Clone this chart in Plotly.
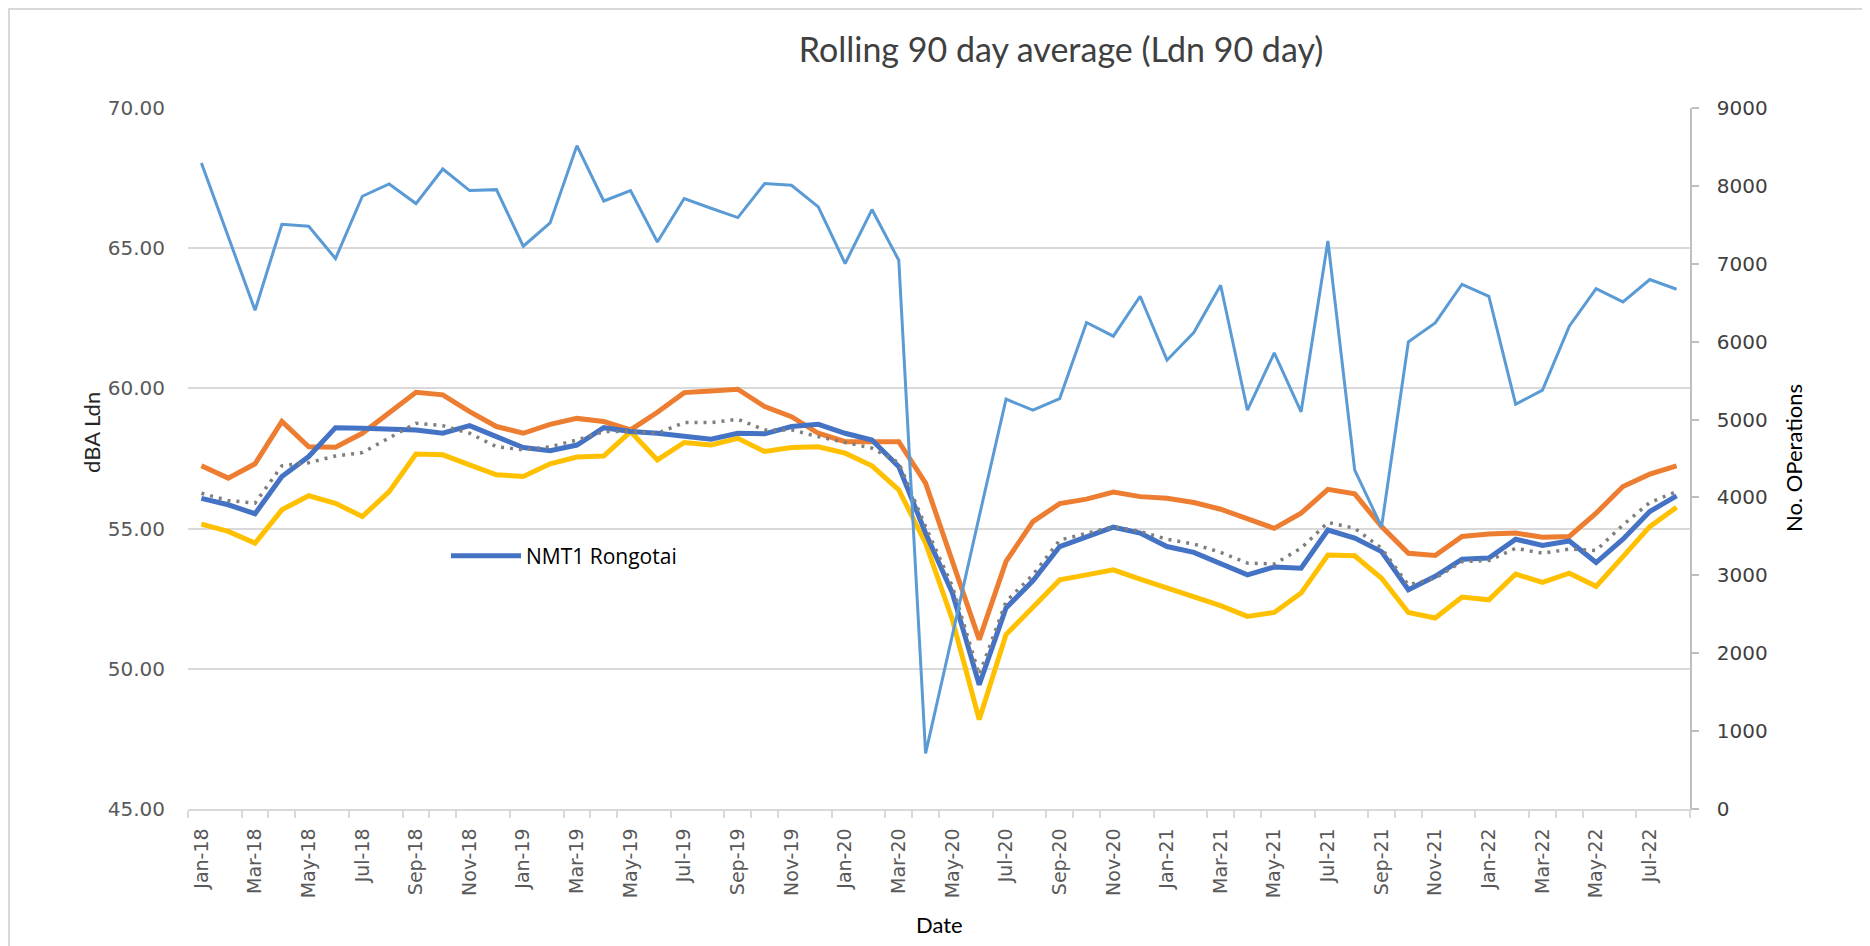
import pandas as pd
import plotly.graph_objects as go

# ---- data ----
months = pd.date_range("2018-01-01", "2022-08-01", freq="MS")
month_labels = [d.strftime("%b-%y") for d in months]

operations = [8294, 7345, 6404, 7507, 7482, 7067, 7867, 8025, 7773, 8217, 7940, 7952,
              7225, 7524, 8517, 7806, 7940, 7280, 7837, 7713, 7593, 8030, 8008, 7730,
              7003, 7696, 7045, 715, 2250, 3756, 5262, 5120, 5270, 6246, 6070, 6583,
              5762, 6117, 6724, 5120, 5856, 5099, 7294, 4350, 3623, 5997, 6241, 6737,
              6583, 5197, 5377, 6198, 6682, 6510, 6798, 6673]

orange_ldn = [57.24, 56.80, 57.31, 58.82, 57.92, 57.90, 58.40, 59.11, 59.86, 59.77, 59.17, 58.64,
              58.40, 58.72, 58.93, 58.82, 58.52, 59.15, 59.85, 59.91, 59.97, 59.35, 58.99, 58.40,
              58.10, 58.10, 58.10, 56.62, 53.89, 51.04, 53.83, 55.25, 55.89, 56.05, 56.30, 56.14,
              56.08, 55.93, 55.69, 55.37, 55.01, 55.55, 56.40, 56.24, 55.07, 54.12, 54.04, 54.72,
              54.81, 54.84, 54.69, 54.72, 55.55, 56.50, 56.94, 57.24]

nmt1_rongotai = [56.08, 55.85, 55.53, 56.86, 57.57, 58.60, 58.58, 58.55, 58.52, 58.40, 58.67, 58.28,
                 57.89, 57.78, 57.98, 58.60, 58.46, 58.40, 58.30, 58.19, 58.40, 58.38, 58.64, 58.72,
                 58.40, 58.16, 57.21, 54.84, 52.70, 49.43, 52.17, 53.14, 54.36, 54.72, 55.05, 54.84,
                 54.36, 54.15, 53.77, 53.35, 53.63, 53.59, 54.95, 54.66, 54.18, 52.82, 53.30, 53.91,
                 53.95, 54.62, 54.40, 54.56, 53.79, 54.62, 55.61, 56.17]

gray_ldn = [56.26, 56.00, 55.91, 57.24, 57.35, 57.59, 57.71, 58.22, 58.76, 58.67, 58.40, 57.92,
            57.81, 57.92, 58.16, 58.46, 58.46, 58.40, 58.78, 58.78, 58.90, 58.52, 58.52, 58.28,
            58.07, 57.87, 57.35, 55.07, 52.94, 49.79, 52.40, 53.35, 54.59, 54.83, 55.07, 54.90,
            54.62, 54.45, 54.15, 53.77, 53.74, 54.30, 55.22, 55.01, 54.30, 52.99, 53.23, 53.82,
            53.86, 54.30, 54.12, 54.27, 54.22, 55.13, 55.93, 56.32]

yellow_ldn = [55.16, 54.90, 54.48, 55.67, 56.17, 55.90, 55.43, 56.32, 57.66, 57.63, 57.27, 56.92,
              56.86, 57.31, 57.55, 57.59, 58.46, 57.45, 58.07, 57.98, 58.22, 57.75, 57.89, 57.92,
              57.69, 57.24, 56.38, 54.48, 51.75, 48.19, 51.22, 52.22, 53.17, 53.35, 53.53, 53.20,
              52.88, 52.56, 52.25, 51.87, 52.01, 52.70, 54.06, 54.03, 53.23, 52.01, 51.81, 52.56,
              52.46, 53.38, 53.08, 53.41, 52.94, 54.00, 55.07, 55.76]

x = list(range(len(months)))
label_idx = x[::2]
label_text = month_labels[::2]

fig = go.Figure()
fig.add_trace(go.Scatter(x=x, y=orange_ldn, mode="lines", showlegend=False,
                         line=dict(color="#ED7D31", width=5)))
fig.add_trace(go.Scatter(x=x, y=yellow_ldn, mode="lines", showlegend=False,
                         line=dict(color="#FFC000", width=5)))
fig.add_trace(go.Scatter(x=x, y=nmt1_rongotai, mode="lines", name="NMT1 Rongotai",
                         line=dict(color="#4472C4", width=5)))
fig.add_trace(go.Scatter(x=x, y=gray_ldn, mode="lines", showlegend=False,
                         line=dict(color="#7F7F7F", width=3.5, dash="3px,6px")))
fig.add_trace(go.Scatter(x=x, y=operations, mode="lines", showlegend=False, yaxis="y2",
                         line=dict(color="#5B9BD5", width=3)))

# the page body has an 8px margin, so the figure is placed 8px in from the window edge
OFF = 8
W, H = 1870 - OFF, 946 - OFF
L, R, T, B = 188 - OFF, 1690 - OFF, 108 - OFF, 809 - OFF


def px_x(p):
    return (p - OFF - L) / (R - L)


def px_y(p):
    return (B - (p - OFF)) / (B - T)


minor_ticks = [p - 0.5 for p in range(0, 57) if p % 6 in (0, 2, 3, 4)]

fig.update_layout(
    width=W, height=H,
    margin=dict(l=L, r=W - R, t=T, b=H - B, pad=0),
    paper_bgcolor="white", plot_bgcolor="white",
    title=dict(text="Rolling 90 day average (Ldn 90 day)", x=(1061 - OFF) / W, xref="container",
               xanchor="center", y=1 - (50 - OFF) / H, yref="container", yanchor="middle",
               font=dict(family="Lato", size=34, color="#404040")),
    xaxis=dict(range=[-0.5, 55.5], tickmode="array", tickvals=label_idx, ticktext=label_text,
               tickangle=-90, tickfont=dict(family="DejaVu Sans", size=19, color="#595959"),
               showgrid=False, zeroline=False,
               showline=True, linecolor="#D9D9D9", linewidth=1.5, ticks="",
               ticklabelstandoff=10,
               minor=dict(tickmode="array", tickvals=minor_ticks, ticks="outside", ticklen=7,
                          tickcolor="#D9D9D9", tickwidth=1.5, showgrid=False)),
    yaxis=dict(range=[45, 70], dtick=5, tick0=45, tickformat=".2f",
               tickfont=dict(family="DejaVu Sans", size=20, color="#595959"),
               showgrid=True, gridcolor="#D9D9D9", gridwidth=1.5, zeroline=False,
               showline=False, ticks="", ticklabelstandoff=22),
    yaxis2=dict(range=[0, 9000], dtick=1000, tick0=0, overlaying="y", side="right",
                tickfont=dict(family="DejaVu Sans", size=20, color="#404040"),
                showgrid=False, zeroline=False, showline=True, linecolor="#BFBFBF",
                linewidth=1.5, ticks="outside", ticklen=7, tickcolor="#BFBFBF", tickwidth=1.5,
                ticklabelstandoff=14),
    showlegend=True,
    legend=dict(x=px_x(446), y=px_y(556), xanchor="left", yanchor="middle",
                bgcolor="rgba(0,0,0,0)", itemwidth=70,
                font=dict(family="Open Sans", size=21, color="#000000")),
    annotations=[
        dict(text="dBA Ldn", x=px_x(91), y=px_y(432), xref="paper", yref="paper",
             showarrow=False, textangle=-90, xanchor="center", yanchor="middle",
             font=dict(family="Lato", size=22, color="#262626")),
        dict(text="No. OPerations", x=px_x(1793), y=px_y(458), xref="paper", yref="paper",
             showarrow=False, textangle=-90, xanchor="center", yanchor="middle",
             font=dict(family="Lato", size=22, color="#000000")),
        dict(text="Date", x=px_x(939), y=px_y(924), xref="paper", yref="paper",
             showarrow=False, xanchor="center", yanchor="middle",
             font=dict(family="Lato", size=22, color="#000000")),
    ],
    shapes=[dict(type="rect", xref="paper", yref="paper", x0=px_x(9), x1=px_x(1867),
                 y0=px_y(960), y1=px_y(9), line=dict(color="#D9D9D9", width=2),
                 fillcolor="rgba(0,0,0,0)", layer="below")],
)

fig.write_html("out.html")
